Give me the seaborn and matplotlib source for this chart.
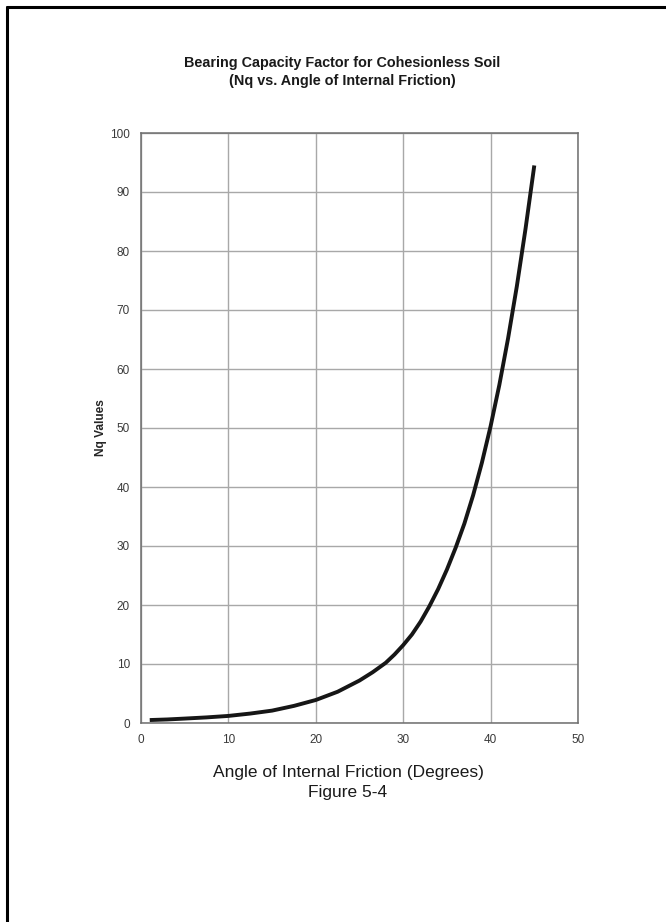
import pandas as pd
import matplotlib
matplotlib.use("Agg")
import matplotlib.pyplot as plt
import seaborn as sns
from matplotlib.lines import Line2D

# values
angle_deg = [1, 3, 5, 7.5, 10, 12.5, 15, 17.5, 20, 22.5, 25, 26.5, 28, 29, 30,
             31, 32, 33, 34, 35, 36, 37, 38, 39, 40, 41, 42, 43, 44, 45]
nq_values = [0.5, 0.6, 0.75, 0.95, 1.2, 1.6, 2.1, 2.9, 3.9, 5.3, 7.2, 8.6, 10.2,
             11.6, 13.2, 15.0, 17.2, 19.8, 22.7, 26.0, 29.7, 33.8, 38.6, 44.1,
             50.3, 57.3, 65.2, 74.0, 83.8, 94.5]

x_ticks = [0, 10, 20, 30, 40, 50]
y_ticks = [0, 10, 20, 30, 40, 50, 60, 70, 80, 90, 100]

title_lines = ["Bearing Capacity Factor for Cohesionless Soil",
               "(Nq vs. Angle of Internal Friction)"]
x_label = "Angle of Internal Friction (Degrees)"
fig_label = "Figure 5-4"
y_label = "Nq Values"


def main():
    sns.set_style("whitegrid")
    plt.rcParams["font.family"] = ["Liberation Sans", "DejaVu Sans"]

    df = pd.DataFrame({"angle": angle_deg, "nq": nq_values})

    fig = plt.figure(figsize=(6.66, 9.22), dpi=100)
    ax = fig.add_axes([141 / 666, 1 - 723 / 922, (578 - 141) / 666, (723 - 133) / 922])

    sns.lineplot(data=df, x="angle", y="nq", ax=ax, color="#161616",
                 linewidth=2.8, solid_capstyle="butt")

    ax.set_xlim(0, 50)
    ax.set_ylim(0, 100)
    ax.set_xticks(x_ticks)
    ax.set_yticks(y_ticks)
    ax.grid(True, color="#a8a8a8", linewidth=1.0)
    for s in ax.spines.values():
        s.set_color("#6e6e6e")
        s.set_linewidth(1.1)
    ax.tick_params(axis="both", length=4, width=1, color="#6e6e6e",
                   labelsize=8.5, labelcolor="#3a3a3a", pad=4)
    ax.set_xlabel("")
    ax.set_ylabel(y_label, fontsize=8.6, fontweight="bold", labelpad=2)

    # titles and captions as figure text
    fig.text(342 / 666, 1 - 63 / 922, title_lines[0], ha="center", va="center",
             fontsize=10.4, fontweight="bold", color="#1a1a1a")
    fig.text(342 / 666, 1 - 81 / 922, title_lines[1], ha="center", va="center",
             fontsize=10.4, fontweight="bold", color="#1a1a1a")
    fig.text(348 / 666, 1 - 772 / 922, x_label, ha="center", va="center",
             fontsize=12.5, color="#1a1a1a")
    fig.text(348 / 666, 1 - 792 / 922, fig_label, ha="center", va="center",
             fontsize=12.5, color="#1a1a1a")

    # page frame: left and top edges only
    fig.add_artist(Line2D([7 / 666, 7 / 666], [0, 1 - 7 / 922], color="black",
                          linewidth=2.2, transform=fig.transFigure))
    fig.add_artist(Line2D([7 / 666, 1], [1 - 7 / 922, 1 - 7 / 922], color="black",
                          linewidth=2.2, transform=fig.transFigure))

    fig.savefig("out.png", dpi=100, facecolor="white")
    plt.close(fig)


if __name__ == "__main__":
    main()
